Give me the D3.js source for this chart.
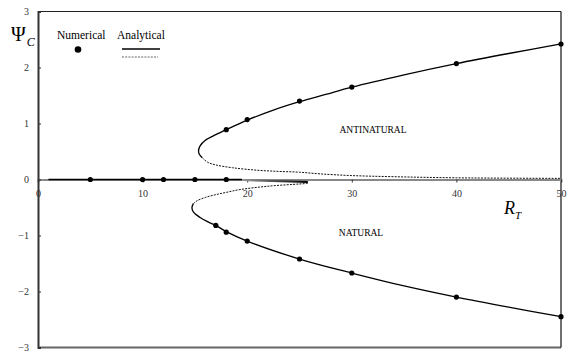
<!DOCTYPE html>
<html>
<head>
<meta charset="utf-8">
<script src="https://cdn.jsdelivr.net/npm/d3@7"></script>
<style>
  html, body { margin: 0; padding: 0; background: #fff; }
  svg { display: block; }
</style>
</head>
<body>
<svg id="chart" width="573" height="352"></svg>
<script>
// Numerical solutions (R_T, Psi_C)
const numericalZero  = [[5, 0], [10, 0], [12, 0], [15, 0], [18, 0]];
const numericalUpper = [[18, 0.89], [20, 1.07], [25, 1.40], [30, 1.65], [40, 2.07], [50, 2.42]];
const numericalLower = [[17, -0.82], [18, -0.94], [20, -1.10], [25, -1.42], [30, -1.67], [40, -2.10], [50, -2.45]];

// Analytical branches
const analyticUpperStable = [[15.7, 0.39], [15.42, 0.45], [15.35, 0.52], [15.5, 0.60], [16.0, 0.70], [17.0, 0.80],
  [18, 0.89], [20, 1.06], [22.5, 1.24], [25, 1.39], [27.5, 1.52], [30, 1.65], [35, 1.87], [40, 2.07], [45, 2.25], [50, 2.42]];
const analyticUpperUnstable = [[15.7, 0.39], [16.2, 0.31], [17, 0.26], [18.6, 0.21], [21, 0.165], [23, 0.145],
  [25, 0.13], [27, 0.10], [30, 0.07], [34, 0.05], [40, 0.03], [50, 0.02]];
const analyticLowerStable = [[14.85, -0.43], [14.72, -0.50], [14.85, -0.58], [15.5, -0.68], [16.3, -0.76], [17, -0.82],
  [18, -0.93], [20, -1.10], [25, -1.42], [30, -1.67], [35, -1.90], [40, -2.10], [45, -2.28], [50, -2.45]];
const analyticLowerUnstable = [[14.85, -0.43], [15.2, -0.38], [16, -0.32], [17, -0.27], [18, -0.23], [19.3, -0.18],
  [22, -0.12], [25, -0.08], [25.8, -0.07]];
const analyticTrivial = [[1, 0], [19.5, 0]];
const analyticTail = [[19.5, -0.01], [25.8, -0.045]];

const xTicks = [0, 10, 20, 30, 40, 50];
const yTicks = [3, 2, 1, 0, -1, -2, -3];
const xDomain = [0, 50];
const yDomain = [-3, 3];

const SERIF = "Liberation Serif";

const svg = d3.select("#chart");
const margin = { left: 38, right: 12, top: 11.5, bottom: 4.5 };
const W = 573, H = 352;

const x = d3.scaleLinear().domain(xDomain).range([margin.left, W - margin.right]);
const y = d3.scaleLinear().domain(yDomain).range([H - margin.bottom, margin.top]);

// Frame
svg.append("line").attr("x1", x(0)).attr("x2", x(50)).attr("y1", y(3)).attr("y2", y(3))
  .attr("stroke", "#222").attr("stroke-width", 1);
svg.append("line").attr("x1", x(0)).attr("x2", x(50)).attr("y1", y(-3)).attr("y2", y(-3))
  .attr("stroke", "#666").attr("stroke-width", 2);
svg.append("line").attr("x1", x(50)).attr("x2", x(50)).attr("y1", y(3)).attr("y2", y(-3))
  .attr("stroke", "#111").attr("stroke-width", 1.2);

// Zero axis (x axis drawn through Psi = 0)
const xAxis = d3.axisBottom(x).tickValues(xTicks).tickSize(3).tickPadding(7).tickFormat(d3.format("d"));
const gx = svg.append("g").attr("transform", `translate(0,${y(0)})`).call(xAxis)
  .attr("font-family", SERIF).attr("font-size", 10);
gx.select(".domain").attr("stroke", "#888").attr("stroke-width", 2);
gx.selectAll(".tick line").attr("stroke", "#333");
gx.selectAll(".tick text").attr("fill", "#333");

// Y axis
const yAxis = d3.axisLeft(y).tickValues(yTicks).tickSize(-3).tickPadding(9).tickFormat(d3.format("d"));
const gy = svg.append("g").attr("transform", `translate(${x(0)},0)`).call(yAxis)
  .attr("font-family", SERIF).attr("font-size", 10);
gy.select(".domain").attr("stroke", "#333").attr("stroke-width", 2);
gy.selectAll(".tick line").attr("stroke", "#333");
gy.selectAll(".tick text").attr("fill", "#333");

// Analytical curves
const line = d3.line().x(d => x(d[0])).y(d => y(d[1])).curve(d3.curveCatmullRom.alpha(0.5));
const straight = d3.line().x(d => x(d[0])).y(d => y(d[1]));

svg.append("path").datum(analyticTrivial).attr("d", straight)
  .attr("fill", "none").attr("stroke", "#000").attr("stroke-width", 1.6);

const grad = svg.append("defs").append("linearGradient").attr("id", "tailGrad")
  .attr("gradientUnits", "userSpaceOnUse")
  .attr("x1", x(analyticTail[0][0])).attr("x2", x(analyticTail[1][0])).attr("y1", 0).attr("y2", 0);
grad.append("stop").attr("offset", "0%").attr("stop-color", "#999");
grad.append("stop").attr("offset", "100%").attr("stop-color", "#000");
svg.append("path").datum(analyticTail).attr("d", straight)
  .attr("fill", "none").attr("stroke", "url(#tailGrad)").attr("stroke-width", 2);

[analyticUpperStable, analyticLowerStable].forEach(d => {
  svg.append("path").datum(d).attr("d", line)
    .attr("fill", "none").attr("stroke", "#000").attr("stroke-width", 1.3);
});
[analyticUpperUnstable, analyticLowerUnstable].forEach(d => {
  svg.append("path").datum(d).attr("d", line)
    .attr("fill", "none").attr("stroke", "#111").attr("stroke-width", 1)
    .attr("stroke-dasharray", "2,1.2");
});

// Numerical points
svg.append("g").selectAll("circle")
  .data([...numericalZero, ...numericalUpper, ...numericalLower])
  .join("circle")
  .attr("cx", d => x(d[0])).attr("cy", d => y(d[1])).attr("r", 2.6).attr("fill", "#000");

// Axis titles
const psi = svg.append("text").attr("x", 11).attr("y", 41).attr("font-size", 20)
  .attr("font-family", SERIF).attr("fill", "#000");
psi.append("tspan").text("Ψ");
psi.append("tspan").attr("font-style", "italic").attr("font-size", 12).attr("dx", 1).attr("dy", 5).text("C");

const rt = svg.append("text").attr("x", 504).attr("y", 214).attr("font-size", 18)
  .attr("font-family", SERIF).attr("font-style", "italic").attr("fill", "#000");
rt.append("tspan").text("R");
rt.append("tspan").attr("font-size", 11).attr("dy", 5).text("T");

// Region labels
svg.append("text").attr("x", 373).attr("y", 132.5).attr("text-anchor", "middle")
  .attr("font-family", SERIF).attr("font-size", 9.5).text("ANTINATURAL");
svg.append("text").attr("x", 361).attr("y", 236).attr("text-anchor", "middle")
  .attr("font-family", SERIF).attr("font-size", 9.5).text("NATURAL");

// Legend
svg.append("text").attr("x", 57).attr("y", 39).attr("font-family", SERIF).attr("font-size", 11.5).text("Numerical");
svg.append("circle").attr("cx", 78).attr("cy", 49.5).attr("r", 3.3).attr("fill", "#000");
svg.append("text").attr("x", 117).attr("y", 39).attr("font-family", SERIF).attr("font-size", 11.5).text("Analytical");
svg.append("line").attr("x1", 122).attr("x2", 160).attr("y1", 49).attr("y2", 49).attr("stroke", "#000").attr("stroke-width", 1.3);
svg.append("line").attr("x1", 122).attr("x2", 158).attr("y1", 57).attr("y2", 57).attr("stroke", "#666").attr("stroke-width", 1)
  .attr("stroke-dasharray", "2,1.2");
</script>
</body>
</html>
